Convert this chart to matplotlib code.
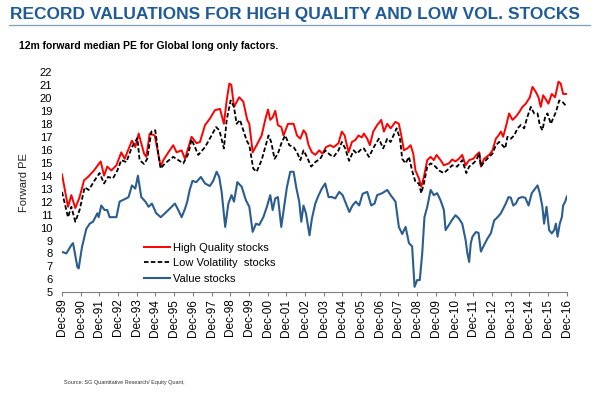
import numpy as np
import matplotlib
matplotlib.use('Agg')
import matplotlib.pyplot as plt

plt.rcParams['font.family'] = ['Liberation Sans', 'DejaVu Sans']

# decimal years and forward PE
hq_t = [1989.92, 1990.24, 1990.42, 1990.63, 1990.85, 1991.10, 1991.31, 1991.63, 1991.99, 1992.17,
        1992.34, 1992.56, 1992.83, 1993.09, 1993.27, 1993.66, 1993.84, 1994.02, 1994.31, 1994.43,
        1994.61, 1994.88, 1995.20, 1995.34, 1995.61, 1995.87, 1996.05, 1996.32, 1996.50, 1996.85,
        1997.12, 1997.30, 1997.57, 1997.83, 1998.10, 1998.37, 1998.58, 1998.73, 1998.87, 1998.98,
        1999.12, 1999.40, 1999.62, 1999.83, 1999.94, 2000.12, 2000.33, 2000.60, 2000.79, 2000.94,
        2001.06, 2001.19, 2001.33, 2001.47, 2001.65, 2001.77, 2002.01, 2002.31, 2002.49, 2002.67,
        2002.84, 2002.97, 2003.11, 2003.29, 2003.47, 2003.68, 2003.86, 2004.04, 2004.27, 2004.45,
        2004.71, 2004.89, 2005.04, 2005.25, 2005.43, 2005.61, 2005.78, 2005.96, 2006.07, 2006.25,
        2006.39, 2006.57, 2006.78, 2007.00, 2007.14, 2007.32, 2007.50, 2007.76, 2007.94, 2008.07,
        2008.21, 2008.39, 2008.57, 2008.71, 2008.83, 2009.01, 2009.14, 2009.28, 2009.46, 2009.64,
        2009.81, 2009.96, 2010.17, 2010.35, 2010.62, 2010.79, 2010.97, 2011.15, 2011.33, 2011.51,
        2011.70, 2011.92, 2012.09, 2012.24, 2012.33, 2012.50, 2012.77, 2012.95, 2013.13, 2013.27,
        2013.40, 2013.52, 2013.66, 2013.84, 2014.02, 2014.20, 2014.38, 2014.55, 2014.73, 2014.95,
        2015.09, 2015.27, 2015.41, 2015.53, 2015.66, 2015.80, 2015.94, 2016.12, 2016.30, 2016.48,
        2016.60, 2016.73, 2016.93]
hq_pe = [14.1, 11.6, 12.5, 11.5, 12.3, 13.65, 13.9, 14.4, 15.1, 14.0,
         14.7, 14.4, 14.8, 15.8, 15.3, 16.7, 16.2, 17.25, 15.7, 15.45,
         17.25, 17.1, 14.7, 15.2, 15.8, 16.35, 15.8, 15.95, 15.3, 17.0,
         16.5, 16.6, 17.9, 18.4, 19.05, 19.15, 18.0, 19.8, 21.1, 21.0,
         19.3, 20.05, 19.7, 18.3, 18.0, 15.8, 16.35, 17.1, 18.3, 19.1,
         18.3, 18.5, 19.0, 17.9, 17.75, 17.1, 18.0, 18.0, 17.1, 16.85,
         17.5, 17.25, 16.35, 15.8, 15.6, 15.95, 15.7, 16.2, 16.35, 16.2,
         16.5, 17.4, 17.1, 15.8, 16.6, 16.75, 17.1, 16.95, 17.25, 16.85,
         16.35, 17.4, 17.9, 18.3, 17.4, 18.0, 17.65, 18.15, 18.0, 17.1,
         15.95, 16.1, 16.35, 15.7, 14.4, 13.8, 13.15, 13.9, 15.2, 15.45,
         15.2, 15.6, 15.2, 14.8, 14.95, 15.25, 15.1, 15.3, 15.6, 14.8,
         15.2, 15.3, 15.6, 15.8, 14.7, 15.3, 15.6, 15.95, 16.85, 17.1,
         17.4, 17.0, 17.75, 18.8, 18.3, 18.55, 18.9, 19.3, 19.55, 20.05,
         20.85, 20.45, 20.05, 19.3, 20.2, 19.9, 19.55, 20.3, 20.05, 21.25,
         21.1, 20.3, 20.3]

lv_t = [1989.92, 1990.24, 1990.42, 1990.63, 1990.86, 1991.13, 1991.35, 1991.67, 1991.93, 1992.17,
        1992.38, 1992.65, 1992.88, 1993.09, 1993.36, 1993.66, 1993.95, 1994.07, 1994.31, 1994.48,
        1994.70, 1994.91, 1995.09, 1995.20, 1995.43, 1995.87, 1996.41, 1996.68, 1996.85, 1997.21,
        1997.57, 1997.92, 1998.16, 1998.34, 1998.58, 1998.73, 1998.94, 1999.12, 1999.26, 1999.44,
        1999.80, 1999.94, 2000.15, 2000.33, 2000.60, 2000.79, 2000.97, 2001.11, 2001.29, 2001.47,
        2001.68, 2001.86, 2002.08, 2002.31, 2002.49, 2002.67, 2002.84, 2003.02, 2003.25, 2003.47,
        2003.73, 2004.00, 2004.27, 2004.45, 2004.71, 2004.89, 2005.07, 2005.28, 2005.52, 2005.70,
        2005.96, 2006.07, 2006.34, 2006.60, 2006.87, 2007.10, 2007.32, 2007.50, 2007.82, 2008.00,
        2008.12, 2008.30, 2008.48, 2008.65, 2008.83, 2009.01, 2009.14, 2009.28, 2009.46, 2009.64,
        2009.90, 2010.08, 2010.35, 2010.62, 2010.79, 2011.06, 2011.33, 2011.55, 2011.70, 2011.92,
        2012.09, 2012.24, 2012.33, 2012.50, 2012.77, 2012.95, 2013.13, 2013.31, 2013.48, 2013.63,
        2013.75, 2013.93, 2014.11, 2014.29, 2014.46, 2014.64, 2014.82, 2015.00, 2015.18, 2015.36,
        2015.48, 2015.62, 2015.77, 2015.89, 2016.07, 2016.19, 2016.34, 2016.52, 2016.69, 2016.93]
lv_pe = [12.75, 10.8, 11.6, 10.45, 11.35, 13.1, 12.9, 13.65, 14.2, 13.4,
         13.9, 13.8, 14.4, 15.2, 15.05, 16.2, 16.9, 15.2, 14.9, 15.3,
         17.4, 17.5, 15.45, 14.55, 14.95, 15.45, 14.95, 15.7, 16.8, 15.6,
         16.2, 17.1, 17.75, 17.5, 16.1, 18.3, 19.8, 19.3, 18.0, 18.3,
         16.7, 16.35, 14.55, 14.3, 15.2, 16.2, 17.1, 16.6, 15.3, 15.7,
         16.6, 17.1, 16.35, 16.2, 15.8, 15.2, 15.95, 15.45, 14.7, 15.05,
         15.3, 15.95, 15.6, 15.45, 15.95, 16.6, 16.1, 15.15, 15.95, 15.7,
         16.1, 16.1, 15.45, 16.2, 16.85, 16.1, 16.85, 16.6, 17.65, 16.85,
         15.3, 14.95, 15.45, 14.4, 13.5, 13.4, 12.65, 13.4, 14.7, 14.95,
         14.7, 14.4, 14.2, 14.55, 14.8, 14.7, 15.2, 14.2, 14.7, 14.95,
         15.2, 15.75, 14.7, 15.05, 15.45, 15.7, 16.35, 16.6, 16.35, 16.1,
         17.0, 16.85, 17.1, 17.65, 17.9, 17.65, 18.55, 19.3, 18.8, 18.8,
         17.9, 17.5, 18.55, 18.8, 18.0, 18.4, 18.9, 19.8, 19.7, 19.3]

val_t = [1989.92, 1990.15, 1990.42, 1990.51, 1990.74, 1990.81, 1990.99, 1991.22, 1991.40, 1991.58,
         1991.81, 1991.88, 1992.02, 1992.20, 1992.34, 1992.47, 1992.83, 1993.00, 1993.36, 1993.48,
         1993.66, 1993.84, 1993.98, 1994.16, 1994.38, 1994.55, 1994.73, 1994.96, 1995.20, 1995.43,
         1995.96, 1996.14, 1996.32, 1996.50, 1996.62, 1996.75, 1996.90, 1997.10, 1997.35, 1997.57,
         1997.83, 1998.01, 1998.19, 1998.33, 1998.46, 1998.65, 1998.82, 1998.99, 1999.12, 1999.30,
         1999.53, 1999.76, 1999.94, 2000.12, 2000.30, 2000.47, 2000.69, 2000.88, 2001.06, 2001.19,
         2001.33, 2001.47, 2001.65, 2001.83, 2001.95, 2002.13, 2002.31, 2002.45, 2002.61, 2002.72,
         2002.84, 2002.97, 2003.16, 2003.29, 2003.47, 2003.65, 2003.82, 2004.00, 2004.18, 2004.36,
         2004.54, 2004.75, 2004.93, 2005.07, 2005.29, 2005.46, 2005.64, 2005.82, 2006.00, 2006.25,
         2006.46, 2006.64, 2006.78, 2007.05, 2007.32, 2007.50, 2007.76, 2007.94, 2008.12, 2008.30,
         2008.48, 2008.65, 2008.78, 2008.92, 2009.06, 2009.19, 2009.31, 2009.46, 2009.64, 2009.81,
         2009.99, 2010.17, 2010.35, 2010.44, 2010.62, 2010.79, 2010.97, 2011.15, 2011.33, 2011.51,
         2011.61, 2011.70, 2011.79, 2011.88, 2012.06, 2012.20, 2012.33, 2012.50, 2012.68, 2012.86,
         2013.04, 2013.22, 2013.40, 2013.52, 2013.66, 2013.81, 2013.93, 2014.06, 2014.20, 2014.34,
         2014.52, 2014.70, 2014.88, 2015.05, 2015.23, 2015.36, 2015.48, 2015.62, 2015.71, 2015.84,
         2015.98, 2016.12, 2016.25, 2016.34, 2016.43, 2016.55, 2016.66, 2016.73, 2016.84, 2016.93]
val_pe = [8.13, 8.0, 8.65, 8.8, 6.97, 6.85, 8.5, 9.9, 10.3, 10.45,
          11.1, 10.8, 11.7, 11.35, 11.35, 10.8, 10.8, 12.0, 12.25, 12.35,
          13.25, 13.0, 14.0, 12.35, 12.0, 11.6, 11.85, 11.1, 10.8, 11.1,
          11.85, 11.35, 10.8, 11.45, 12.0, 12.9, 13.6, 13.5, 13.9, 13.4,
          13.2, 13.6, 14.3, 13.9, 12.75, 10.05, 11.85, 12.5, 12.0, 13.5,
          13.15, 12.1, 11.6, 9.67, 10.3, 10.2, 10.8, 11.6, 12.5, 11.35,
          12.25, 12.35, 10.05, 11.85, 13.1, 14.3, 14.3, 13.1, 12.0, 10.45,
          11.7, 11.1, 9.4, 10.7, 11.85, 12.5, 13.0, 13.4, 12.35, 12.35,
          12.25, 12.75, 12.5, 12.0, 11.2, 11.7, 12.0, 11.7, 12.6, 12.75,
          11.7, 11.85, 12.5, 12.65, 12.9, 12.5, 12.0, 10.05, 9.5, 10.05,
          8.8, 8.55, 5.43, 5.95, 5.95, 8.0, 10.8, 11.6, 12.9, 12.5,
          12.65, 12.1, 11.35, 9.8, 10.2, 10.6, 10.95, 10.7, 10.3, 9.05,
          8.0, 7.35, 8.8, 9.3, 9.65, 9.6, 8.15, 8.65, 9.15, 9.55,
          10.55, 10.8, 11.1, 11.45, 11.85, 12.35, 12.3, 11.7, 11.85, 12.25,
          12.35, 12.3, 11.7, 12.65, 13.0, 13.25, 12.65, 11.6, 10.3, 11.6,
          9.8, 9.55, 9.8, 10.3, 9.3, 10.3, 10.8, 11.7, 12.0, 12.4]

tick_pos = [1989.92 + k for k in range(28)]
tick_lab = ['Dec-%02d' % ((89 + k) % 100) for k in range(28)]

fig = plt.figure(figsize=(6.08, 3.93), dpi=100)
ax = fig.add_axes([0.102, 0.256, 0.831, 0.561])

ax.plot(hq_t, hq_pe, color='#ff0000', lw=1.4, label='High Quality stocks', zorder=3)
ax.plot(lv_t, lv_pe, color='black', lw=1.3, dashes=(2.5, 1.3), label='Low Volatility  stocks', zorder=4)
ax.plot(val_t, val_pe, color='#2b5d8e', lw=1.5, label='Value stocks', zorder=2)

ax.set_xlim(1989.92, 2016.95)
ax.set_ylim(5, 22)
ax.set_yticks(range(5, 23))
ax.set_xticks(tick_pos)
ax.set_xticklabels(tick_lab, rotation=90, fontsize=8.5)
ax.tick_params(axis='y', length=0, pad=7, labelsize=8)
ax.tick_params(axis='x', length=3, width=0.8, color='#808080', pad=1.5)
for s in ['top', 'right', 'left']:
    ax.spines[s].set_visible(False)
ax.spines['bottom'].set_color('#808080')
ax.spines['bottom'].set_linewidth(0.8)
ax.set_ylabel('Forward PE', fontsize=8, labelpad=8, color='#222222')

ax.legend(loc='upper left', bbox_to_anchor=(0.163, 0.225), frameon=False, fontsize=8,
          handlelength=2.3, handletextpad=0.3, labelspacing=0.5, borderpad=0, borderaxespad=0)

fig.text(0.016, 0.964, 'RECORD VALUATIONS FOR HIGH QUALITY AND LOW VOL. STOCKS',
         fontsize=12.5, fontweight='bold', color='#1f5b96', va='center', ha='left')
fig.add_artist(plt.Line2D([0.015, 0.97], [0.936, 0.936], color='#7f9bbd', lw=0.9))
fig.text(0.031, 0.882, '12m forward median PE for Global long only factors.',
         fontsize=7.5, fontweight='bold', color='black', va='center', ha='left')
fig.text(0.105, 0.026, 'Source: SG Quantitative Research/ Equity Quant,',
         fontsize=4, color='#333333', va='center', ha='left')

plt.savefig('out.png', dpi=100)
